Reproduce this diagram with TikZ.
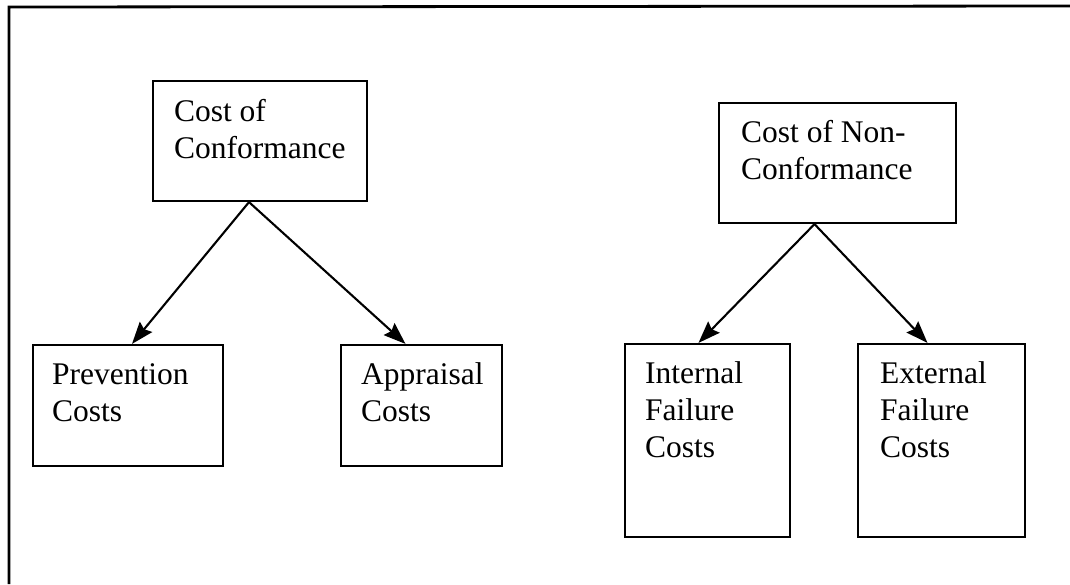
\documentclass[tikz,border=0pt]{standalone}
\usepackage{fontspec}
\setmainfont{Liberation Serif}
\usetikzlibrary{arrows.meta,calc}
\begin{document}
\begin{tikzpicture}[x=1pt,y=-1pt,
  costbox/.style={draw=black,line width=2.2pt,rectangle,inner sep=0pt},
  costtext/.style={anchor=north west,inner sep=0pt,align=left,
    font=\fontsize{31.5}{37}\selectfont},
  flow/.style={line width=2.1pt,-{Stealth[length=22pt,width=16pt,inset=3pt]}}]
\useasboundingbox (0,0) rectangle (1070,584);
% outer frame (top and left edges)
\draw[line width=2.8pt] (9,584) -- (9,7) -- (1070,6);
% boxes
\node[costbox,minimum width=214,minimum height=120] (conf) at (260,141) {};
\node[costbox,minimum width=237,minimum height=120] (nonconf) at (837.5,163) {};
\node[costbox,minimum width=190,minimum height=121] (prev) at (128,405.5) {};
\node[costbox,minimum width=161,minimum height=121] (appr) at (421.5,405.5) {};
\node[costbox,minimum width=165,minimum height=193] (intf) at (707.5,440.5) {};
\node[costbox,minimum width=167,minimum height=193] (extf) at (941.5,440.5) {};
% labels
\node[costtext] (confT) at ([shift={(22,15)}]conf.north west) {\strut Cost of\\Conformance};
\node[costtext] (nonconfT) at ([shift={(23,14)}]nonconf.north west) {\strut Cost of Non-\\Conformance};
\node[costtext] (prevT) at ([shift={(20,14)}]prev.north west) {\strut Prevention\\Costs};
\node[costtext] (apprT) at ([shift={(21,14)}]appr.north west) {\strut Appraisal\\Costs};
\node[costtext] (intfT) at ([shift={(21,14)}]intf.north west) {\strut Internal\\Failure\\Costs};
\node[costtext] (extfT) at ([shift={(23,14)}]extf.north west) {\strut External\\Failure\\Costs};
% connectors
\draw[flow] ([xshift=-11]conf.south) -- ([xshift=4]prev.north);
\draw[flow] ([xshift=-11]conf.south) -- ([xshift=-16]appr.north);
\draw[flow] ([xshift=-23]nonconf.south) -- ([xshift=-9]intf.north);
\draw[flow] ([xshift=-23]nonconf.south) -- ([xshift=-14]extf.north);
\end{tikzpicture}
\end{document}
